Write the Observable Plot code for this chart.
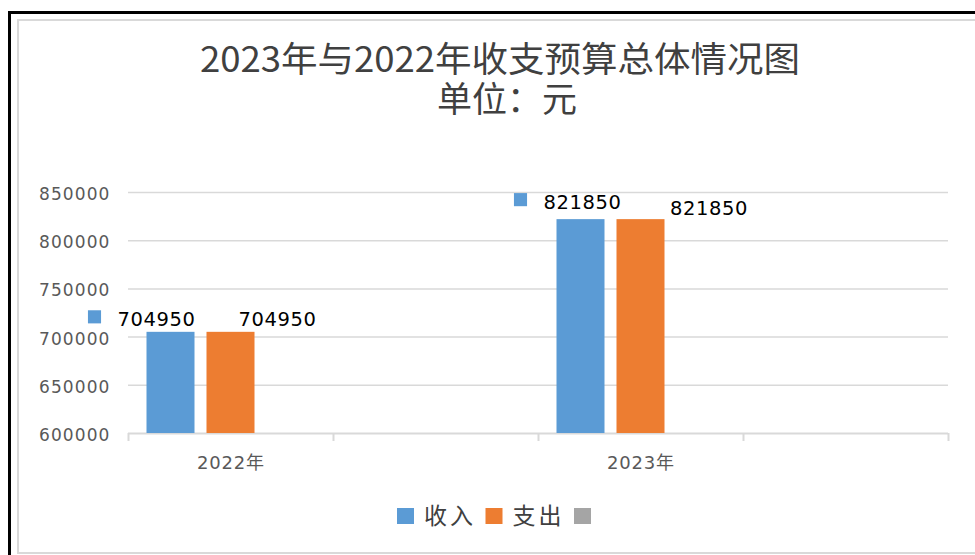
<!DOCTYPE html>
<html>
<head>
<meta charset="utf-8">
<script src="https://cdn.jsdelivr.net/npm/d3@7"></script>
<script src="https://cdn.jsdelivr.net/npm/@observablehq/plot@0.6"></script>
<style>
  body { margin: 0; background: #fff; }
  #wrap { position: relative; width: 975px; height: 555px; overflow: hidden; background: #fff; }
  #outer { position: absolute; left: 8px; top: 11px; width: 2000px; height: 2000px;
           border-left: 3px solid #000; border-top: 3px solid #000; }
  #inner { position: absolute; left: 17px; top: 19px; width: 2000px; height: 531px;
           border: 2px solid #d9d9d9; }
  #wrap svg.layer { position: absolute; left: 0; top: 0; }
  .chart g[aria-label="y-axis tick label"] { font-size: 17px; }
  .chart g[aria-label="y-axis tick label"] text { letter-spacing: 1.1px; }
  .chart g[aria-label="x-axis tick label"] { font-size: 18px; }
  .chart g[aria-label="x-axis tick label"] text { letter-spacing: 0.8px; }
  .chart g.val text { letter-spacing: 0.6px; }
</style>
</head>
<body>
<div id="wrap">
  <div id="outer"></div>
  <div id="inner"></div>
</div>
<script>
// ---- data ----
const categories = ["2022年", "", "2023年", " "];
const seriesNames = ["收入", "支出", ""];
const seriesColors = ["#5B9BD5", "#ED7D31", "#A5A5A5"];
const incomeValues = [704950, null, 821850, null];
const expenseValues = [704950, null, 821850, null];
const yTicks = [600000, 650000, 700000, 750000, 800000, 850000];
const titleLines = ["2023年与2022年收支预算总体情况图", "单位：元"];

// ---- layout ----
const W = 975, H = 555, mL = 128, mR = 27, mT = 192, mB = 122;
const bandW = (W - mL - mR) / categories.length;
const slot = 60, barW = 48;
const outerPad = (bandW - (3 * slot - (slot - barW))) / 2;

const rows = [];
categories.forEach((c, i) => {
  if (incomeValues[i] != null) rows.push({cat: c, s: 0, series: seriesNames[0], value: incomeValues[i]});
  if (expenseValues[i] != null) rows.push({cat: c, s: 1, series: seriesNames[1], value: expenseValues[i]});
});

// label placement (style), per row in rows order
const labelStyle = [
  {dx: -74.5, dy: -6, key: {dx: -136.5, dy: -15.5}},
  {dx: 46.5, dy: -6},
  {dx: -58.5, dy: -11, key: {dx: -120.5, dy: -20}},
  {dx: 68, dy: -5}
];

const font = "'DejaVu Sans', 'Noto Sans CJK SC', sans-serif";
const marks = [
  Plot.gridY(yTicks.slice(1), {stroke: "#d9d9d9", strokeOpacity: 1, strokeWidth: 1.5}),
  Plot.ruleY([yTicks[0]], {stroke: "#d9d9d9", strokeWidth: 2}),
  Plot.axisY({ticks: yTicks, tickSize: 0, tickPadding: 18, dy: 2, fontSize: 17, fill: "#595959",
              fontFamily: font, tickFormat: d => String(d), label: null}),
  Plot.axisX({tickSize: 0, tickPadding: 23, fontSize: 18, fill: "#595959", fontFamily: font, label: null}),
  Plot.axisX({tickSize: 8, tickFormat: () => "", dx: -bandW / 2, stroke: "#d9d9d9", strokeWidth: 2, label: null}),
  Plot.axisX([categories[categories.length - 1]], {tickSize: 8, tickFormat: () => "", dx: bandW / 2,
              stroke: "#d9d9d9", strokeWidth: 2, label: null})
];
[0, 1].forEach(k => {
  marks.push(Plot.barY(rows.filter(d => d.s === k), {
    x: "cat", y1: yTicks[0], y2: "value", fill: seriesColors[k],
    insetLeft: outerPad + k * slot, insetRight: bandW - outerPad - barW - k * slot
  }));
});
rows.forEach((r, i) => {
  const st = labelStyle[i];
  marks.push(Plot.text([r], {
    x: "cat", y: "value", text: d => String(d.value), dx: st.dx, dy: st.dy,
    lineAnchor: "bottom", fontSize: 19.5, fill: "#000", fontFamily: font, className: "val"
  }));
  if (st.key) {
    marks.push(Plot.dot([r], {
      x: "cat", y: "value", symbol: "square", r: 7.4, fill: seriesColors[r.s],
      dx: st.key.dx, dy: st.key.dy
    }));
  }
});

const chart = Plot.plot({
  width: W, height: H,
  marginLeft: mL, marginRight: mR, marginTop: mT, marginBottom: mB,
  className: "chart",
  style: {background: "transparent", overflow: "visible"},
  x: {type: "band", domain: categories, padding: 0, axis: null},
  y: {domain: [yTicks[0], yTicks[yTicks.length - 1]], axis: null},
  marks
});
chart.classList.add("layer");
document.getElementById("wrap").appendChild(chart);

// ---- title (one text, two lines) and legend ----
const ov = d3.select("#wrap").append("svg").attr("class", "layer")
  .attr("width", W).attr("height", H);
const title = ov.append("text").attr("text-anchor", "middle")
  .attr("font-family", "'Noto Sans CJK SC', sans-serif").attr("font-size", 35)
  .attr("fill", "#404040");
title.append("tspan").attr("x", 500).attr("y", 72)
  .attr("textLength", 600).attr("lengthAdjust", "spacingAndGlyphs").text(titleLines[0]);
title.append("tspan").attr("x", 507).attr("y", 112).text(titleLines[1]);

const lg = ov.append("g").attr("transform", "translate(397,508)");
seriesNames.forEach((name, i) => {
  const g = lg.append("g").attr("transform", `translate(${i * 88.5},0)`);
  g.append("rect").attr("width", 17).attr("height", 16).attr("fill", seriesColors[i]);
  if (name) {
    g.append("text").attr("x", 27).attr("y", 16).attr("font-size", 23)
      .attr("font-family", "'Noto Sans CJK SC', sans-serif").attr("fill", "#404040")
      .attr("letter-spacing", 3).text(name);
  }
});
</script>
</body>
</html>
